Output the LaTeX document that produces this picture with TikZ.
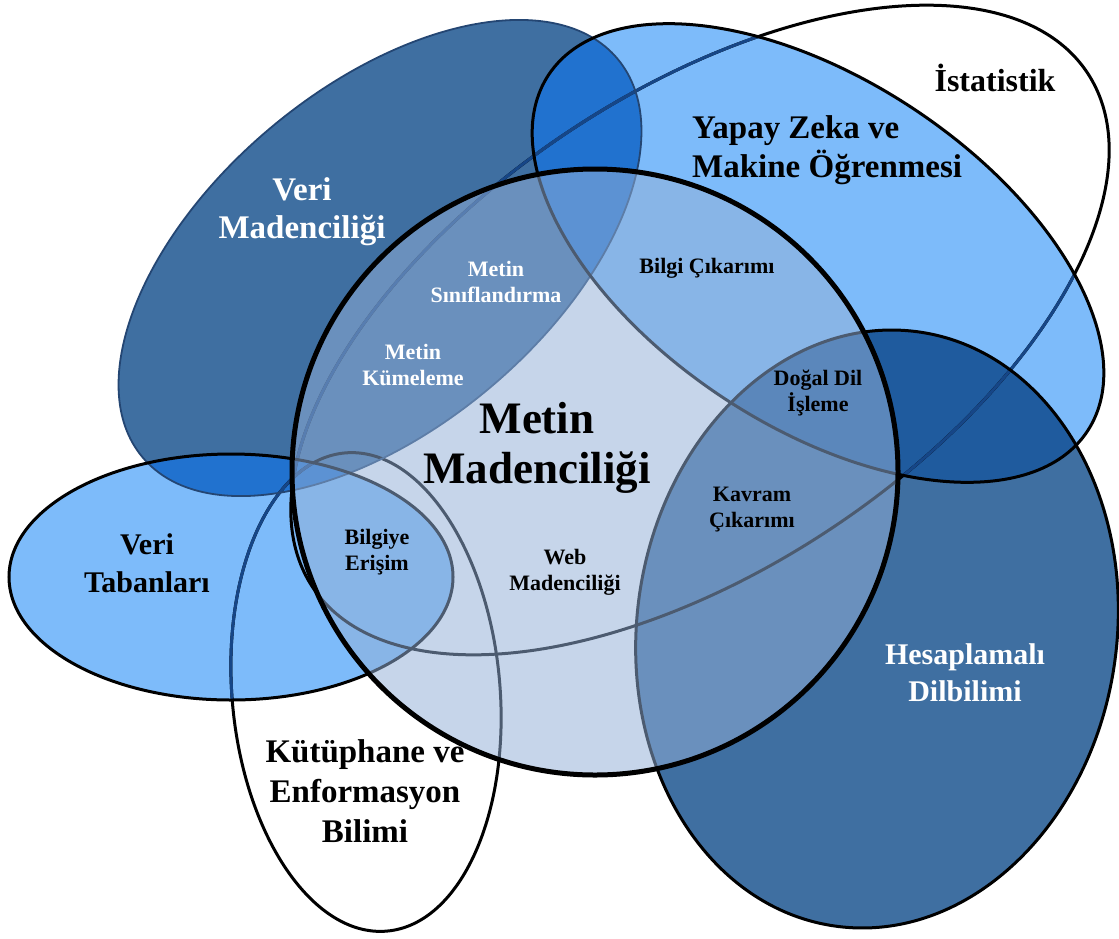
\documentclass[tikz,border=0pt]{standalone}
\usepackage{fontspec}
\setmainfont{Liberation Serif}
\definecolor{cDark}{RGB}{63,111,161}
\definecolor{cLight}{RGB}{125,187,250}
\definecolor{cBright}{RGB}{33,114,207}
\definecolor{cDeep}{RGB}{31,91,158}
\definecolor{cK}{RGB}{147,176,215}
\definecolor{cLine}{RGB}{22,70,135}
\definecolor{cVMline}{RGB}{36,70,115}
\tikzset{
  pIst/.style={rotate around={33.6:(700,330)}, insert path={(700,330) ellipse [x radius=465, y radius=238]}},
  pVM/.style={rotate around={40:(380,258)}, insert path={(380,258) ellipse [x radius=310, y radius=170]}},
  pYZ/.style={rotate around={-33.5:(818,253)}, insert path={(818,253) ellipse [x radius=323, y radius=173]}},
  pVT/.style={insert path={(231,577) ellipse [x radius=222, y radius=123]}},
  pKut/.style={rotate around={5:(366,692)}, insert path={(366,692) ellipse [x radius=134, y radius=240]}},
  pHD/.style={rotate around={-8:(877,629)}, insert path={(877,629) ellipse [x radius=240, y radius=300]}},
  pC/.style={insert path={(595,472) circle [radius=303]}},
  olk/.style={draw=black, line width=3pt},
  olb/.style={draw=cLine, line width=3pt},
  lbl/.style={align=center, inner sep=0pt},
  bigw/.style={lbl, text=white, font=\fontsize{33}{38}\selectfont\bfseries},
  bigk/.style={lbl, text=black, font=\fontsize{33}{39}\selectfont\bfseries},
  smw/.style={lbl, text=white, font=\fontsize{22}{26}\selectfont\bfseries},
  smk/.style={lbl, text=black, font=\fontsize{22}{26}\selectfont\bfseries}
}
\begin{document}
\begin{tikzpicture}[x=1pt,y=-1pt]
\useasboundingbox (0,0) rectangle (1119,938);
\fill[white] (0,0) rectangle (1119,938);
% base fills
\fill[white,pIst];
\fill[white,pKut];
\fill[cDark,pVM];
\fill[cLight,pYZ];
\fill[cLight,pVT];
\fill[cDark,pHD];
% overlaps
\begin{scope}
  \clip[pVM];
  \fill[cBright,pYZ];
  \fill[cBright,pVT];
\end{scope}
\begin{scope}
  \clip[pHD];
  \fill[cDeep,pYZ];
\end{scope}
% outlines
\path[olk,pIst];
\begin{scope}\clip[pYZ]; \path[olb,pIst]; \end{scope}
\begin{scope}\clip[pVM]; \path[olb,pIst]; \end{scope}
\path[olk,pKut];
\begin{scope}\clip[pVT]; \path[olb,pKut]; \end{scope}
\draw[cVMline, line width=1.8pt, pVM];
\path[olk,pYZ];
\path[olk,pVT];
\path[olk,pHD];
% central circle
\fill[cK, fill opacity=0.52, pC];
\draw[black, line width=5pt, pC];
% labels
\node[bigw] (vm) at (302,212) {Veri\\Madenciliği};
\node[bigk, align=left, anchor=west] (yz) at (692,150) {Yapay Zeka ve\\Makine Öğrenmesi};
\node[lbl, font=\fontsize{32}{38}\selectfont\bfseries] (ist) at (995,78) {İstatistik};
\node[lbl, font=\fontsize{45}{50}\selectfont\bfseries] (tm) at (537,448) {Metin\\Madenciliği};
\node[bigk, font=\fontsize{30}{38}\selectfont\bfseries] (vt) at (147,563) {Veri\\Tabanları};
\node[bigk, font=\fontsize{33}{40}\selectfont\bfseries] (kut) at (365,791) {Kütüphane ve\\Enformasyon\\Bilimi};
\node[bigw, font=\fontsize{30}{37}\selectfont\bfseries] (hd) at (965,673) {Hesaplamalı\\Dilbilimi};
\node[smw] (ms) at (496,282) {Metin\\Sınıflandırma};
\node[smw] (mk) at (413,365) {Metin\\Kümeleme};
\node[smk] (bc) at (707,268) {Bilgi Çıkarımı};
\node[smk] (dd) at (818,393) {Doğal Dil\\İşleme};
\node[smk] (kc) at (752,510) {Kavram\\Çıkarımı};
\node[smk] (wm) at (565,572) {Web\\Madenciliği};
\node[smk] (be) at (377,552) {Bilgiye\\Erişim};
\end{tikzpicture}
\end{document}
